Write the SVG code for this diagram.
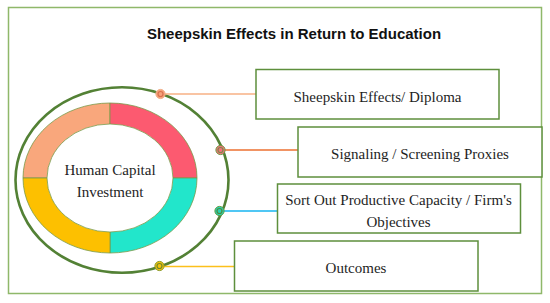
<svg xmlns="http://www.w3.org/2000/svg" width="550" height="303" viewBox="0 0 550 303">
<style>
.frame{fill:#fff;stroke:#8fb86a;stroke-width:1.5}
.box{fill:#fff;stroke:#5e8f3c;stroke-width:1.5}
.lbl{font-family:"Liberation Serif","Times New Roman",serif;font-size:15px;fill:#1e1e1e;text-anchor:middle}
.title{font-family:"Liberation Sans",Arial,sans-serif;font-size:15px;font-weight:bold;fill:#111;text-anchor:middle}
.seg{stroke:#7a9a4a;stroke-width:0.8}
.conn{fill:none;stroke-width:1.3}
.dot{stroke-width:1}
.dotin{fill:none;stroke-width:1.2}
</style>
<rect class="frame" x="8.5" y="7.5" width="533" height="286"/>
<text class="title" x="294" y="39">Sheepskin Effects in Return to Education</text>

<g id="hub">
<ellipse cx="122" cy="180" rx="106.5" ry="92.7" fill="none" stroke="#538135" stroke-width="2.6"/>
<path class="seg" fill="#f9a77c" d="M110,103 A87,75 0 0 0 23,178 L47,178 A63,54 0 0 1 110,124 Z"/>
<path class="seg" fill="#fc5a70" d="M110,103 A87,75 0 0 1 197,178 L173,178 A63,54 0 0 0 110,124 Z"/>
<path class="seg" fill="#22e6cb" d="M197,178 A87,75 0 0 1 110,253 L110,232 A63,54 0 0 0 173,178 Z"/>
<path class="seg" fill="#fdc000" d="M23,178 A87,75 0 0 0 110,253 L110,232 A63,54 0 0 1 47,178 Z"/>
<text class="lbl" x="110" y="175">Human Capital</text>
<text class="lbl" x="110" y="197">Investment</text>
</g>

<g id="connectors">
<line class="conn" x1="163" y1="94" x2="256" y2="94" stroke="#f7b184"/>
<line class="conn" x1="223" y1="150" x2="298" y2="150" stroke="#ed7131" stroke-width="1.8"/>
<line class="conn" x1="222" y1="211" x2="277" y2="211" stroke="#16b4f0"/>
<line class="conn" x1="162" y1="266.5" x2="234" y2="266.5" stroke="#fcc01c"/>
<circle class="dot" cx="160.5" cy="94" r="4.6" fill="#f6a07a" stroke="#f0b08a"/>
<circle class="dotin" cx="160.5" cy="94" r="2.5" stroke="#d9704e"/>
<circle class="dot" cx="220.5" cy="150" r="4.6" fill="#f7707e" stroke="#6b9a40"/>
<circle class="dotin" cx="220.5" cy="150" r="2.5" stroke="#7e8a48"/>
<circle class="dot" cx="219.5" cy="211" r="4.6" fill="#28d2b4" stroke="#5f9a3e"/>
<circle class="dotin" cx="219.5" cy="211" r="2.5" stroke="#4f8a3c"/>
<circle class="dot" cx="159.5" cy="266" r="4.6" fill="#f6c20c" stroke="#8a9a2a"/>
<circle class="dotin" cx="159.5" cy="266" r="2.5" stroke="#6f8a2a"/>
</g>

<g id="n1">
<rect class="box" x="256" y="69.5" width="243" height="49.5"/>
<text class="lbl" x="377.5" y="102">Sheepskin Effects/ Diploma</text>
</g>
<g id="n2">
<rect class="box" x="298" y="127" width="244" height="50"/>
<text class="lbl" x="420" y="159">Signaling / Screening Proxies</text>
</g>
<g id="n3">
<rect class="box" x="277.5" y="184" width="243" height="49"/>
<text class="lbl" x="398.5" y="205">Sort Out Productive Capacity / Firm's</text>
<text class="lbl" x="398.5" y="227">Objectives</text>
</g>
<g id="n4">
<rect class="box" x="234.5" y="241" width="243.5" height="50"/>
<text class="lbl" x="356" y="273">Outcomes</text>
</g>
</svg>
